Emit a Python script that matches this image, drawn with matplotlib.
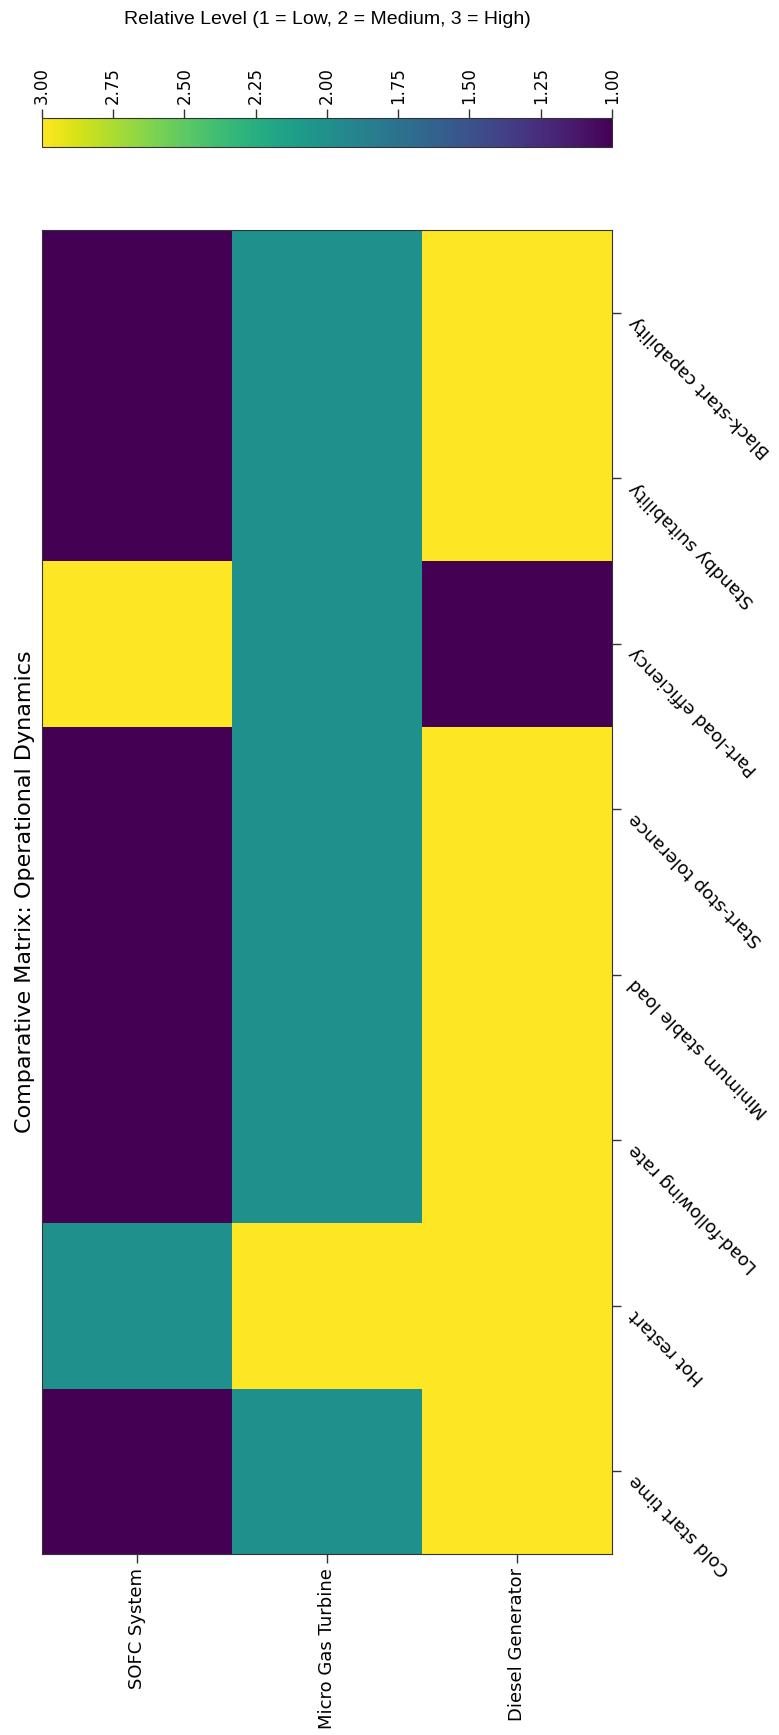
import numpy as np
import matplotlib
matplotlib.use("Agg")
import matplotlib.pyplot as plt

plt.rcParams["font.family"] = "DejaVu Sans"

systems = ["SOFC System", "Micro Gas Turbine", "Diesel Generator"]
metrics = ["Cold start time", "Hot restart", "Load-following rate",
           "Minimum stable load", "Start-stop tolerance", "Part-load efficiency",
           "Standby suitability", "Black-start capability"]

# 1 = Low, 2 = Medium, 3 = High (one value per metric, in the order above)
sofc = [1, 2, 1, 1, 1, 3, 1, 1]
micro_turbine = [2, 3, 2, 2, 2, 2, 2, 2]
diesel = [3, 3, 3, 3, 3, 1, 3, 3]

levels = np.array([sofc, micro_turbine, diesel]).T  # rows = metrics, cols = systems

fig = plt.figure(figsize=(7.79, 17.35), dpi=100)
ax = fig.add_axes([0.0539, 0.1043, 0.7317, 0.7631])
cax = fig.add_axes([0.0539, 0.9153, 0.7317, 0.0167])

im = ax.imshow(levels, cmap="viridis", vmin=1, vmax=3, aspect="auto",
               origin="lower", interpolation="nearest")

ax.set_xticks(np.arange(len(systems)))
ax.set_xticklabels(systems, rotation=90, fontsize=13)
ax.set_yticks(np.arange(len(metrics)))
ax.yaxis.tick_right()
ax.set_yticklabels(metrics, fontsize=13, rotation=135, ha="left", va="top",
                   rotation_mode="default")
ax.tick_params(length=6.5, width=1, color="#333333")
for s in ax.spines.values():
    s.set_color("#333333")

cb = fig.colorbar(im, cax=cax, orientation="horizontal")
cb.set_ticks(np.arange(1.0, 3.01, 0.25))
cb.set_ticklabels(["%.2f" % t for t in np.arange(1.0, 3.01, 0.25)])
cax.xaxis.set_ticks_position("top")
cax.invert_xaxis()
cax.tick_params(labelsize=12, rotation=90, length=6.5, width=1, color="#333333")
cb.outline.set_edgecolor("#333333")

fig.text(0.42, 0.989, "Relative Level (1 = Low, 2 = Medium, 3 = High)",
         ha="center", va="center", fontsize=14, family="Liberation Sans")
fig.text(0.032, 0.486, "Comparative Matrix: Operational Dynamics",
         rotation=90, ha="center", va="center", fontsize=16)

fig.savefig("out.png", dpi=100)
